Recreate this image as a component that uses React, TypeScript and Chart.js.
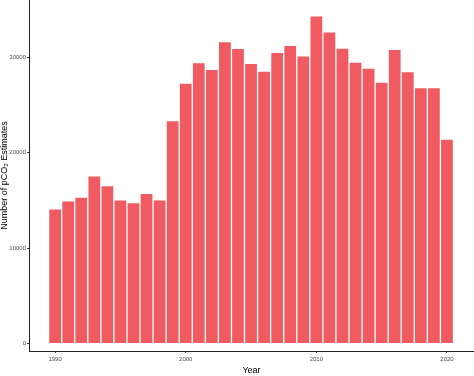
import React, { useEffect, useRef } from "react";
import { Chart, registerables } from "chart.js";

Chart.register(...registerables);

const years: number[] = [
  1990, 1991, 1992, 1993, 1994, 1995, 1996, 1997, 1998, 1999,
  2000, 2001, 2002, 2003, 2004, 2005, 2006, 2007, 2008, 2009,
  2010, 2011, 2012, 2013, 2014, 2015, 2016, 2017, 2018, 2019, 2020,
];
const estimates: number[] = [
  14060, 14900, 15300, 17520, 16500, 15000, 14700, 15670, 15000, 23300,
  27230, 29400, 28680, 31580, 30880, 29300, 28500, 30460, 31200, 30100,
  34280, 32600, 30920, 29450, 28810, 27350, 30780, 28440, 26760, 26760, 21370,
];
const xTicks: number[] = [1990, 2000, 2010, 2020];
const yTicks: number[] = [0, 10000, 20000, 30000];

export default function App() {
  const ref = useRef<HTMLCanvasElement | null>(null);
  useEffect(() => {
    document.body.style.margin = "0";
    const ctx = ref.current!;
    const chart = new Chart(ctx, {
      type: "bar",
      data: {
        datasets: [
          {
            data: years.map((y, i) => ({ x: y, y: estimates[i] })),
            backgroundColor: "#EF5B60",
            borderWidth: 0,
            barPercentage: 0.9,
            categoryPercentage: 1,
          },
        ],
      },
      options: {
        animation: false,
        responsive: false,
        maintainAspectRatio: false,
        layout: { padding: { top: 0, right: 0, left: 0, bottom: 0 } },
        plugins: { legend: { display: false }, tooltip: { enabled: false } },
        scales: {
          x: {
            type: "linear",
            min: 1988,
            max: 2022.07,
            offset: false,
            afterBuildTicks: (s: any) => {
              s.ticks = xTicks.map((v) => ({ value: v }));
            },
            afterFit: (s: any) => {
              s.height = 25;
              s.paddingLeft = 0;
              s.paddingRight = 0;
            },
            ticks: {
              color: "#4d4d4d",
              font: { family: "Liberation Sans", size: 6 },
              padding: 3,
              maxRotation: 0,
              callback: (v: any) => String(v),
            },
            grid: {
              display: true,
              offset: false,
              drawOnChartArea: false,
              drawTicks: true,
              tickLength: 2,
              color: "#333333",
            },
            border: { display: true, color: "#222222", width: 1 },
            title: {
              display: true,
              text: "Year",
              color: "#000000",
              font: { family: "Liberation Sans", size: 9 },
              padding: { top: 0, bottom: 0 },
            },
          },
          y: {
            type: "linear",
            min: -776,
            max: 36020,
            afterBuildTicks: (s: any) => {
              s.ticks = yTicks.map((v) => ({ value: v }));
            },
            afterFit: (s: any) => {
              s.width = 29;
              s.paddingTop = 0;
              s.paddingBottom = 0;
            },
            ticks: {
              color: "#4d4d4d",
              font: { family: "Liberation Sans", size: 6 },
              padding: 1,
              callback: (v: any) => String(v),
            },
            grid: {
              display: true,
              offset: false,
              drawOnChartArea: false,
              drawTicks: true,
              tickLength: 2,
              color: "#333333",
            },
            border: { display: true, color: "#222222", width: 1 },
            title: {
              display: true,
              text: "Number of pCO₂ Estimates",
              color: "#000000",
              font: { family: "Liberation Sans", size: 9 },
              padding: { top: -1, bottom: 0 },
            },
          },
        },
      },
    });
    return () => chart.destroy();
  }, []);
  return (
    <div style={{ width: 474, height: 376 }}>
      <canvas ref={ref} width={474} height={376} style={{ display: "block" }} />
    </div>
  );
}
